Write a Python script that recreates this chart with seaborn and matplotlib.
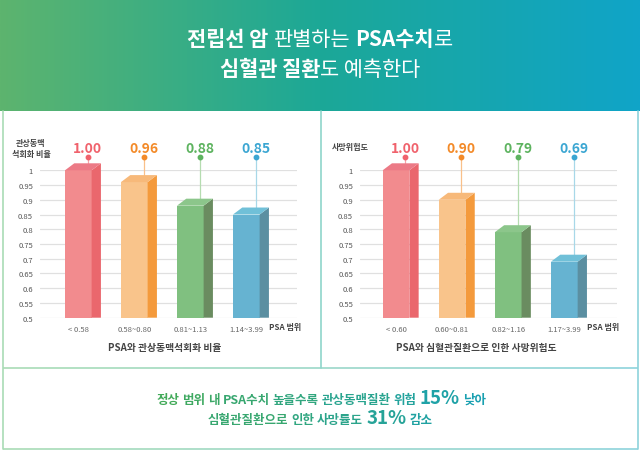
import numpy as np
import matplotlib
matplotlib.use("Agg")
import matplotlib.pyplot as plt
import seaborn as sns
from matplotlib.patches import Polygon
from matplotlib.colors import to_rgb

# ==============================
# Data
# ==============================
cac_groups = ["< 0.58", "0.58~0.80", "0.81~1.13", "1.14~3.99"]
cac_ratio = [1.00, 0.96, 0.88, 0.85]
cvd_groups = ["< 0.60", "0.60~0.81", "0.82~1.16", "1.17~3.99"]
cvd_risk = [1.00, 0.90, 0.79, 0.69]
y_ticks = [0.5, 0.55, 0.6, 0.65, 0.7, 0.75, 0.8, 0.85, 0.9, 0.95, 1.0]
y_tick_labels = ["0.5", "0.55", "0.6", "0.65", "0.7", "0.75", "0.8", "0.85", "0.9", "0.95", "1"]

# bar colours: front / side / top / value label / stem
front_cols = ["#f28b8e", "#f9c48b", "#80c080", "#66b3d1"]
side_cols = ["#ea676d", "#f49a3c", "#6a8c60", "#5b8fa1"]
top_cols = ["#ec7a86", "#f7b97a", "#8cc68b", "#70c0d8"]
label_cols = ["#f0626c", "#f38a28", "#5db35f", "#3ba6d2"]
stem_cols = ["#f5a3a8", "#f9c08a", "#b5dcb0", "#a8d8e8"]

sns.set_style("white")
plt.rcParams['font.family'] = ['Noto Sans CJK KR', 'DejaVu Sans']

W, H = 640, 452
fig = plt.figure(figsize=(W / 100, H / 100), dpi=100)
fig.patch.set_facecolor("white")

# background axes in pixel coordinates
bg = fig.add_axes([0, 0, 1, 1], zorder=-1)
bg.set_axis_off()

# header gradient
stops = np.array([to_rgb("#5db46e"), to_rgb("#1ca897"), to_rgb("#10a4c8")])
t = np.linspace(0, 1, 400)
grad = np.stack([np.interp(t, [0, 0.5, 1], stops[:, c]) for c in range(3)], axis=-1)
bg.imshow(grad[np.newaxis, :, :], extent=(0, W, 112, 0), aspect="auto")

# panel borders
b_left, b_right = np.array(to_rgb("#a9dcb5")), np.array(to_rgb("#8dd3dc"))
def hline_grad(y, x0, x1, n=60):
    xs = np.linspace(x0, x1, n + 1)
    for i in range(n):
        f = (xs[i] - x0) / (x1 - x0)
        bg.plot([xs[i], xs[i + 1]], [y, y], color=b_left + (b_right - b_left) * f,
                lw=1.2, solid_capstyle="butt")
hline_grad(369, 3, 638)
hline_grad(450, 3, 638)
bg.plot([3, 3], [112, 450], color=b_left, lw=1.2)
bg.plot([638, 638], [112, 450], color=b_right, lw=1.2)
bg.plot([321, 321], [112, 369], color="#8fd6cb", lw=1.2)
bg.set_xlim(0, W)
bg.set_ylim(H, 0)

renderer = fig.canvas.get_renderer()


def rich_line(parts, cx, baseline, colfun=None):
    """parts: list of (text, kwargs, gap_after_px)"""
    texts, widths, gaps = [], [], []
    for s, kw, gap in parts:
        tx = bg.text(0, baseline, s, ha="left", va="baseline", **kw)
        texts.append(tx)
        widths.append(tx.get_window_extent(renderer).width)
        gaps.append(gap)
    total = sum(widths) + sum(gaps[:-1])
    x = cx - total / 2
    for tx, w, g in zip(texts, widths, gaps):
        tx.set_x(x)
        if colfun is not None:
            tx.set_color(colfun(x + w / 2))
        x += w + g


# title
bold_t = dict(fontsize=15, fontweight="bold", color="white")
light_t = dict(fontsize=15, fontweight="light", color="white")
rich_line([("전립선 암", bold_t, 5), ("판별하는", light_t, 5),
           ("PSA수치", bold_t, 0), ("로", light_t, 0)], 320, 46)
rich_line([("심혈관 질환", bold_t, 0), ("도 예측한다", light_t, 0)], 320, 76)

# ==============================
# Bar charts
# ==============================
def draw_chart(rect, groups, values, xlim, ytitle, ytitle_xy, subtitle, sub_x, psa_x):
    ax = fig.add_axes(rect)
    ax.set_facecolor("none")
    sns.barplot(x=groups, y=values, hue=groups, palette=front_cols, width=0.476,
                saturation=1, linewidth=0, legend=False, ax=ax, zorder=3)
    ax.set_xlim(*xlim)
    ax.set_ylim(0.5, 1.0)
    ax.set_yticks(y_ticks)
    ax.set_yticklabels(y_tick_labels)
    ax.set_axisbelow(True)
    ax.yaxis.grid(True, color="#e0e0e0", lw=0.9)
    ax.xaxis.grid(False)
    for sp in ax.spines.values():
        sp.set_visible(False)
    ax.tick_params(axis="y", length=0, pad=5, labelsize=5.5, labelcolor="#555555")
    ax.tick_params(axis="x", length=0, pad=5, labelsize=5.5, labelcolor="#666666")
    ax.set_xlabel("")
    ax.set_ylabel("")

    bbox = ax.get_window_extent(renderer)
    px_x = bbox.width / (xlim[1] - xlim[0])
    px_y = bbox.height / 0.5
    dx, dy = 9.3 / px_x, 7.0 / px_y
    half = 0.476 / 2
    for i, v in enumerate(values):
        x0, x1 = i - half, i + half
        ax.add_patch(Polygon([(x1, 0.5), (x1, v), (x1 + dx, v + dy), (x1 + dx, 0.5)],
                             closed=True, color=side_cols[i], lw=0, zorder=4, clip_on=False))
        ax.add_patch(Polygon([(x0, v), (x1, v), (x1 + dx, v + dy), (x0 + dx, v + dy)],
                             closed=True, color=top_cols[i], lw=0, zorder=4, clip_on=False))
        xc = i + dx
        dot_y = 1.0 + 13 / px_y
        ax.plot([xc, xc], [v + dy, dot_y], color=stem_cols[i], lw=0.9, zorder=2, clip_on=False)
        ax.plot([xc], [dot_y], "o", ms=3.2, color=label_cols[i], zorder=5, clip_on=False)
        ax.text(xc, 1.0 + 22.5 / px_y, f"{v:.2f}", ha="center", va="center",
                fontsize=10, fontweight="bold", color=label_cols[i], clip_on=False)

    bg.text(ytitle_xy[0], ytitle_xy[1], ytitle, ha="center", va="center", fontsize=5.8,
            fontweight="bold", color="#444444", linespacing=1.3)
    bg.text(sub_x, 348.5, subtitle, ha="center", va="center", fontsize=7,
            fontweight="bold", color="#444444")
    bg.text(psa_x, 328, "PSA 범위", ha="center", va="center", fontsize=5.8,
            fontweight="bold", color="#444444")
    return ax


ax_top, ax_bot = 1 - 171.3 / H, 1 - 318.7 / H
draw_chart([40 / W, ax_bot, 257 / W, ax_top - ax_bot], cac_groups, cac_ratio,
           (-(78.3 - 40) / 56, (297 - 78.3) / 56), "관상동맥\n석회화 비율", (31, 149),
           "PSA와 관상동맥석회화 비율", 165, 285)
draw_chart([360 / W, ax_bot, 256.7 / W, ax_top - ax_bot], cvd_groups, cvd_risk,
           (-(396 - 360) / 56.1, (616.7 - 396) / 56.1), "사망위험도", (350, 147.5),
           "PSA와 심혈관질환으로 인한 사망위험도", 476.7, 603.3)

# ==============================
# Bottom summary text (green -> teal)
# ==============================
g0, g1 = np.array(to_rgb("#44aa55")), np.array(to_rgb("#18a0b6"))
def grad_col(x, xa=152, xb=491):
    f = min(max((x - xa) / (xb - xa), 0), 1)
    return tuple(g0 + (g1 - g0) * f)

sm = dict(fontsize=9, fontweight="bold")
bigf = dict(fontsize=13.5, fontweight="bold")
words1 = ["정상", "범위", "내", "PSA수치", "높을수록", "관상동맥질환", "위험"]
parts1 = [(w, sm, 3) for w in words1] + [("15%", bigf, 3), ("낮아", sm, 0)]
rich_line(parts1, 321, 404, grad_col)
words2 = ["심혈관질환으로", "인한", "사망률도"]
parts2 = [(w, sm, 3) for w in words2] + [("31%", bigf, 3), ("감소", sm, 0)]
rich_line(parts2, 320, 424, grad_col)

plt.savefig("out.png", dpi=100, facecolor="white")
